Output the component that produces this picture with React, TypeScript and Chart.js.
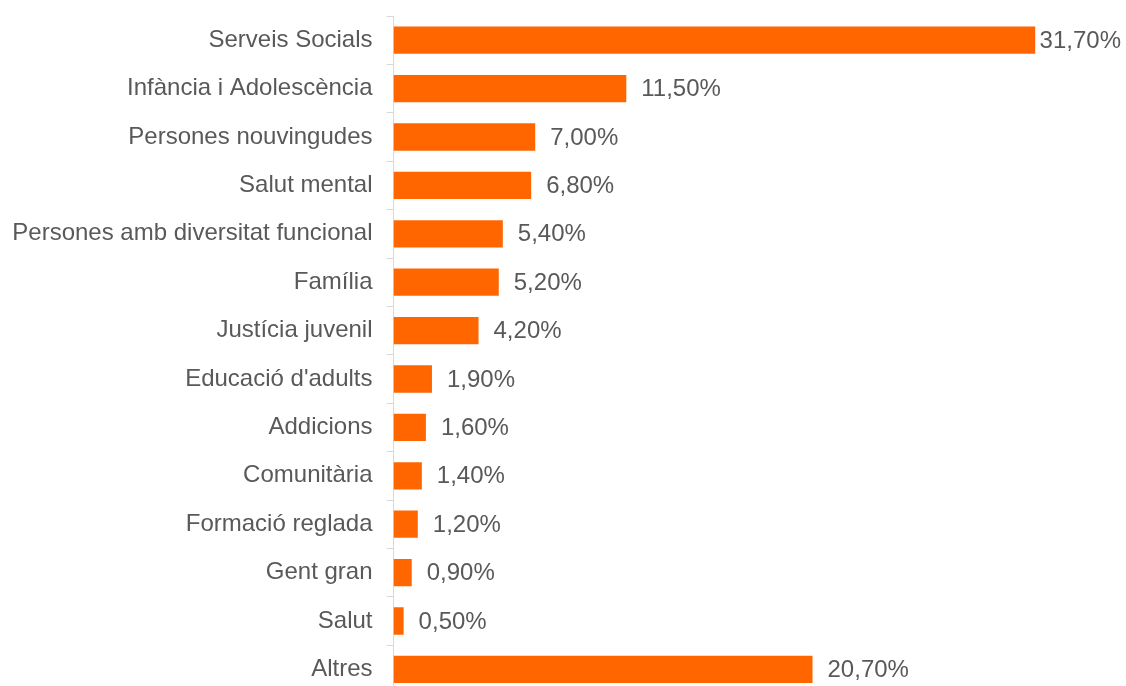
import React, { useEffect, useRef } from "react";
import { Chart, registerables } from "chart.js";

Chart.register(...registerables);

const categories: string[] = [
  "Serveis Socials",
  "Infància i Adolescència",
  "Persones nouvingudes",
  "Salut mental",
  "Persones amb diversitat funcional",
  "Família",
  "Justícia juvenil",
  "Educació d'adults",
  "Addicions",
  "Comunitària",
  "Formació reglada",
  "Gent gran",
  "Salut",
  "Altres",
];

const values: number[] = [31.7, 11.5, 7.0, 6.8, 5.4, 5.2, 4.2, 1.9, 1.6, 1.4, 1.2, 0.9, 0.5, 20.7];

const BAR_COLOR = "#FF6600";
const TEXT_COLOR = "#595959";
const AXIS_COLOR = "#D9D9D9";
const FONT_FAMILY = '"Liberation Sans", Arial, sans-serif';

const fmt = (v: number) => v.toFixed(2).replace(".", ",") + "%";

const valueLabelPlugin = {
  id: "valueLabels",
  afterDatasetsDraw(chart: any) {
    const ctx = chart.ctx;
    const meta = chart.getDatasetMeta(0);
    ctx.save();
    ctx.font = `24px ${FONT_FAMILY}`;
    ctx.fillStyle = TEXT_COLOR;
    ctx.textAlign = "left";
    ctx.textBaseline = "middle";
    meta.data.forEach((bar: any, i: number) => {
      const text = fmt(values[i]);
      const w = ctx.measureText(text).width;
      const x = Math.min(bar.x + 15, chart.width - 5 - w);
      ctx.fillText(text, x, bar.y + 1);
    });
    ctx.restore();
  },
};

export default function App() {
  const ref = useRef<HTMLCanvasElement | null>(null);

  useEffect(() => {
    if (!ref.current) return;
    Chart.defaults.font.family = FONT_FAMILY;
    const chart = new Chart(ref.current, {
      type: "bar",
      data: {
        labels: categories,
        datasets: [
          {
            data: values,
            backgroundColor: BAR_COLOR,
            borderWidth: 0,
            barPercentage: 0.565,
            categoryPercentage: 1,
          },
        ],
      },
      options: {
        indexAxis: "y",
        responsive: false,
        animation: false,
        devicePixelRatio: 1,
        layout: { padding: { top: 16, bottom: 6.4, left: 0, right: 24 } },
        plugins: {
          legend: { display: false },
          tooltip: { enabled: false },
        },
        scales: {
          x: {
            display: false,
            min: 0,
            max: 35,
          },
          y: {
            afterFit(scale: any) {
              scale.width = 393.5;
              scale.paddingTop = 0;
              scale.paddingBottom = 0;
            },
            border: { display: true, color: AXIS_COLOR, width: 1 },
            grid: {
              offset: true,
              drawOnChartArea: false,
              drawTicks: true,
              tickLength: 7,
              color: AXIS_COLOR,
            },
            ticks: {
              padding: 14,
              color: TEXT_COLOR,
              font: { size: 24, family: FONT_FAMILY },
              autoSkip: false,
            },
          },
        },
      },
      plugins: [valueLabelPlugin],
    } as any);
    return () => chart.destroy();
  }, []);

  return (
    <div
      style={{
        position: "fixed",
        left: 0,
        top: 0,
        width: 1126,
        height: 686,
        overflow: "hidden",
        background: "#fff",
      }}
    >
      <canvas ref={ref} width={1126} height={700} style={{ display: "block" }} />
    </div>
  );
}
